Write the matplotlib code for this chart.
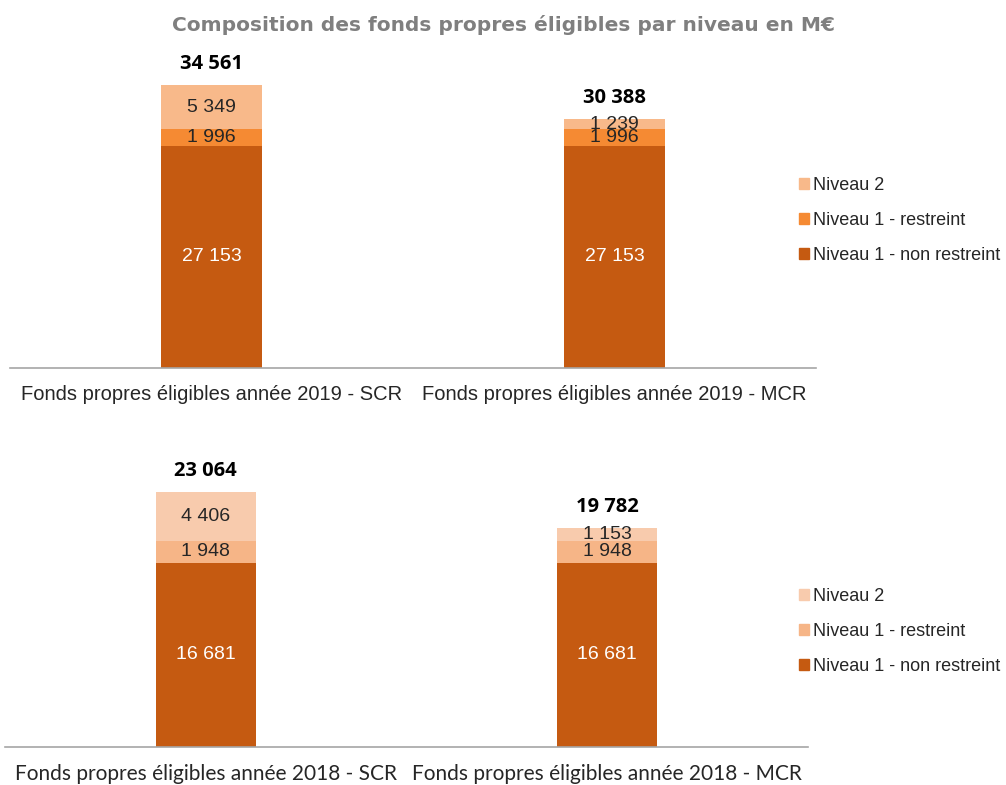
import numpy as np
from matplotlib import pyplot as plt
from matplotlib.patches import Patch

#########################################
### Data
#########################################
cats_2019 = ["Fonds propres éligibles année 2019 - SCR", "Fonds propres éligibles année 2019 - MCR"]
cats_2018 = ["Fonds propres éligibles année 2018 - SCR", "Fonds propres éligibles année 2018 - MCR"]
levels = ["Niveau 1 - non restreint", "Niveau 1 - restreint", "Niveau 2"]

n1_nr_2019 = [27153, 27153]
n1_r_2019 = [1996, 1996]
n2_2019 = [5349, 1239]
tot_2019 = [34561, 30388]

n1_nr_2018 = [16681, 16681]
n1_r_2018 = [1948, 1948]
n2_2018 = [4406, 1153]
tot_2018 = [23064, 19782]

colors_2019 = ["#C55A11", "#F58A33", "#F8B98A"]
colors_2018 = ["#C55A11", "#F6B587", "#F8CBAD"]
txt_colors = ["white", "#262626", "#262626"]


def fmt(v):
    return f"{v:,}".replace(",", " ")


W, H = 1006, 785
fig = plt.figure(figsize=(W / 100, H / 100), dpi=100)


def stacked(rect, cats, series, totals, colors, ymax, catfont, legend_xy):
    ax = fig.add_axes([rect[0] / W, 1 - rect[3] / H, (rect[2] - rect[0]) / W, (rect[3] - rect[1]) / H])
    x = np.arange(len(cats))
    bottom = np.zeros(len(cats))
    handles = []
    for vals, c, tc, name in zip(series, colors, txt_colors, levels):
        bars = ax.bar(x, vals, width=0.25, bottom=bottom, color=c, linewidth=0)
        for b, v, b0 in zip(bars, vals, bottom):
            ax.text(b.get_x() + b.get_width() / 2, b0 + v / 2, fmt(v), ha="center", va="center",
                    color=tc, fontsize=14, family="Liberation Sans")
        bottom = bottom + np.array(vals)
        handles.append(Patch(color=c, label=name))
    for xi, t in zip(x, totals):
        ax.annotate(fmt(t), (xi, t), xytext=(0, 8), textcoords="offset points",
                    ha="center", va="bottom", fontsize=14.5, fontweight="bold",
                    family="Open Sans", color="black")
    ax.set_xlim(-0.5, len(cats) - 0.5)
    ax.set_ylim(0, ymax)
    ax.set_xticks(x)
    ax.set_xticklabels(cats, **catfont)
    ax.tick_params(axis="x", length=0, pad=12)
    ax.set_yticks([])
    for s in ["top", "left", "right"]:
        ax.spines[s].set_visible(False)
    ax.spines["bottom"].set_color("#A6A6A6")
    ax.spines["bottom"].set_linewidth(1.2)
    fig.legend(handles=handles[::-1], loc="upper left",
               bbox_to_anchor=(legend_xy[0] / W, 1 - legend_xy[1] / H),
               frameon=False, handlelength=0.55, handleheight=0.55,
               handletextpad=0.25, labelspacing=1.0, borderaxespad=0, borderpad=0,
               prop={"family": "Liberation Sans", "size": 13}, labelcolor="#262626")
    return ax


stacked((10, 60, 816, 368), cats_2019, [n1_nr_2019, n1_r_2019, n2_2019], tot_2019,
        colors_2019, 37600, dict(fontsize=14.5, family="Liberation Sans", color="#262626"),
        (799, 177))
stacked((5, 460, 808, 747), cats_2018, [n1_nr_2018, n1_r_2018, n2_2018], tot_2018,
        colors_2018, 25960, dict(fontsize=15, family="Lato", color="#262626"),
        (799, 588))

fig.text(503 / W, 1 - 25 / H, "Composition des fonds propres éligibles par niveau en M€",
         ha="center", va="center", fontsize=14.5, fontweight="bold", color="#7F7F7F",
         family="DejaVu Sans")

plt.savefig("out.png", dpi=100)
